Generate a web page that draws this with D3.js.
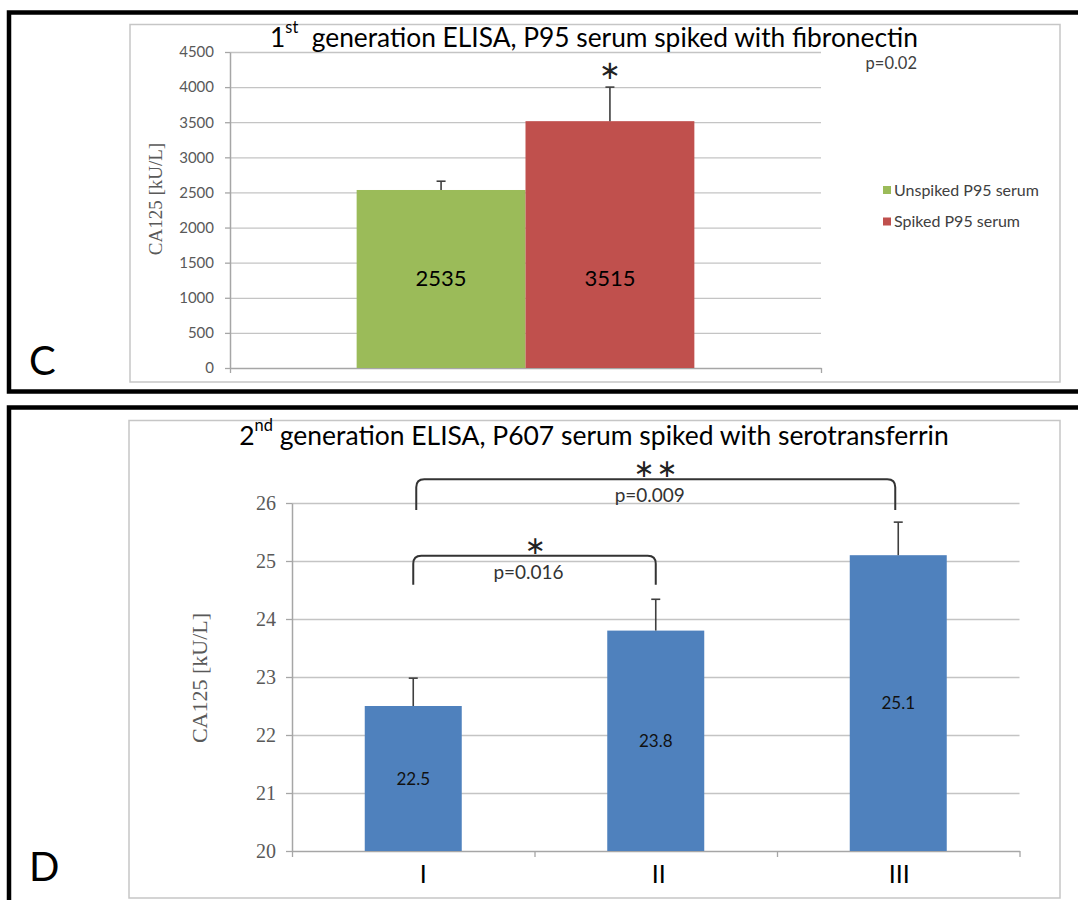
<!DOCTYPE html>
<html><head><meta charset="utf-8">
<script src="https://cdn.jsdelivr.net/npm/d3@7"></script>
<style>body{margin:0;background:#fff}svg{display:block}text{white-space:pre}</style>
</head><body><svg id="c" width="1078" height="900"></svg>
<script>
// ---------- data ----------
const panelLabels = ["C", "D"];
const yTitleText = "CA125 [kU/L]";

const topTitleParts = ["1", "st", "  generation ELISA, P95 serum spiked with fibronectin"];
const topCategories = ["P95 serum"];
const topSeries = ["Unspiked P95 serum", "Spiked P95 serum"];
const topValues = [2535, 3515];
const topErrors = [125, 485];
const topTicks = [0, 500, 1000, 1500, 2000, 2500, 3000, 3500, 4000, 4500];
const topPValue = "p=0.02";
const topStars = "\u2217";

const bottomTitleParts = ["2", "nd", " generation ELISA, P607 serum spiked with serotransferrin"];
const bottomCategories = ["I", "II", "III"];
const bottomValues = [22.5, 23.8, 25.1];
const bottomErrors = [0.48, 0.54, 0.57];
const bottomTicks = [20, 21, 22, 23, 24, 25, 26];
const compFrom = ["I", "I"];
const compTo = ["II", "III"];
const compStars = ["\u2217", "\u2217\u2217"];
const compP = ["p=0.016", "p=0.009"];

// ---------- helpers ----------
const svg = d3.select("#c");
const SANS = "Lato, 'Open Sans', sans-serif";
const SERIF = "'Liberation Serif', 'DejaVu Serif', serif";
const STAR = "'DejaVu Sans', sans-serif";
const GRID = "#c4c4c4", AXIS = "#a6a6a6", TICKTXT = "#595959", ERR = "#3f3f3f";

function fitWidth(sel, w) {
  const cur = sel.node().getComputedTextLength();
  const fs = parseFloat(sel.attr("font-size"));
  sel.attr("font-size", fs * w / cur);
}
function title(parts, cx, y, w) {
  const t = svg.append("text").attr("x", cx).attr("y", y).attr("text-anchor", "middle")
    .attr("font-family", SANS).attr("font-size", 26).attr("fill", "#000");
  t.append("tspan").text(parts[0]);
  t.append("tspan").attr("font-size", "62%").attr("dy", "-0.85em").text(parts[1]);
  t.append("tspan").attr("dy", "0.53em").text(parts[2]);
  fitWidth(t, w);
}

// ---------- frames ----------
svg.append("rect").attr("x", 9).attr("y", 12.5).attr("width", 1100).attr("height", 379)
  .attr("fill", "none").attr("stroke", "#000").attr("stroke-width", 4.5);
svg.append("rect").attr("x", 9).attr("y", 407.5).attr("width", 1100).attr("height", 600)
  .attr("fill", "none").attr("stroke", "#000").attr("stroke-width", 4.5);
svg.append("rect").attr("x", 130).attr("y", 24.5).attr("width", 930).attr("height", 357.5)
  .attr("fill", "#fff").attr("stroke", "#c6c6c6").attr("stroke-width", 1.5);
svg.append("rect").attr("x", 129).attr("y", 420.5).attr("width", 931).attr("height", 477.5)
  .attr("fill", "#fff").attr("stroke", "#c6c6c6").attr("stroke-width", 1.5);

// panel letters
svg.append("text").attr("x", 29).attr("y", 375).attr("font-family", SANS).attr("font-size", 40).text(panelLabels[0]);
svg.append("text").attr("x", 29).attr("y", 881).attr("font-family", SANS).attr("font-size", 40).text(panelLabels[1]);

// ================= TOP CHART =================
{
  const L = 230, R = 821, T = 52, B = 368;
  const y = d3.scaleLinear().domain([0, 4500]).range([B, T]);
  const x0 = d3.scaleBand().domain(topCategories).range([L, R]).padding(0);
  const x1 = d3.scaleBand().domain(topSeries).range([0, x0.bandwidth()]).paddingInner(0).paddingOuter(0.75);
  const color = d3.scaleOrdinal().domain(topSeries).range(["#9bbb59", "#c0504d"]);
  const g = svg.append("g");

  g.selectAll("line.grid").data(topTicks.filter(t => t > 0)).join("line")
    .attr("x1", L).attr("x2", R).attr("y1", d => y(d) + 0.5).attr("y2", d => y(d) + 0.5)
    .attr("stroke", GRID).attr("stroke-width", 1.3);

  const ya = g.append("g").attr("transform", `translate(${L},0)`)
    .call(d3.axisLeft(y).tickValues(topTicks).tickFormat(d3.format("d")).tickSize(5).tickSizeOuter(0).tickPadding(11));
  ya.select(".domain").attr("stroke", AXIS).attr("stroke-width", 1.5);
  ya.selectAll(".tick line").attr("stroke", AXIS).attr("stroke-width", 1.3);
  ya.selectAll(".tick text").attr("font-family", SANS).attr("font-size", 15).attr("fill", TICKTXT);

  const xs = d3.scaleLinear().domain([0, 1]).range([L, R]);
  const xa = g.append("g").attr("transform", `translate(0,${B})`)
    .call(d3.axisBottom(xs).tickValues([0, 1]).tickFormat("").tickSize(5).tickSizeOuter(0));
  xa.select(".domain").attr("stroke", AXIS).attr("stroke-width", 1.5);
  xa.selectAll(".tick line").attr("stroke", AXIS).attr("stroke-width", 1.3);

  const rows = topSeries.map((s, i) => ({ cat: topCategories[0], s, v: topValues[i], e: topErrors[i] }));
  g.selectAll("rect.bar").data(rows).join("rect")
    .attr("x", d => x0(d.cat) + x1(d.s)).attr("width", x1.bandwidth())
    .attr("y", d => y(d.v)).attr("height", d => y(0) - y(d.v)).attr("fill", d => color(d.s));

  rows.forEach(d => {
    const cx = x0(d.cat) + x1(d.s) + x1.bandwidth() / 2;
    g.append("line").attr("x1", cx).attr("x2", cx).attr("y1", y(d.v)).attr("y2", y(d.v + d.e))
      .attr("stroke", ERR).attr("stroke-width", 1.6);
    g.append("line").attr("x1", cx - 4.5).attr("x2", cx + 4.5).attr("y1", y(d.v + d.e)).attr("y2", y(d.v + d.e))
      .attr("stroke", ERR).attr("stroke-width", 1.6);
    g.append("text").attr("x", cx).attr("y", y(d3.min(topValues) / 2) + 7)
      .attr("text-anchor", "middle").attr("font-family", SANS).attr("font-size", 22).attr("fill", "#000")
      .text(d3.format("d")(d.v));
  });

  // significance star above spiked bar
  const sp = rows[1];
  const scx = x0(sp.cat) + x1(sp.s) + x1.bandwidth() / 2;
  g.append("text").attr("x", scx).attr("y", y(sp.v + sp.e) - 8).attr("text-anchor", "middle")
    .attr("font-family", STAR).attr("font-size", 26).attr("fill", "#222").text(topStars);
  g.append("text").attr("x", 917).attr("y", 69).attr("text-anchor", "end")
    .attr("font-family", SANS).attr("font-size", 16.5).attr("fill", "#404040").text(topPValue);

  // legend
  const lg = g.append("g");
  topSeries.forEach((s, i) => {
    const cy = 190 + i * 31.5;
    lg.append("rect").attr("x", 883).attr("y", cy - 4).attr("width", 8).attr("height", 8).attr("fill", color(s));
    lg.append("text").attr("x", 894).attr("y", cy + 5.5)
      .attr("font-family", SANS).attr("font-size", 16).attr("fill", "#404040").text(s);
  });

  // y-axis title
  svg.append("text").attr("transform", "translate(162,199) rotate(-90)").attr("text-anchor", "middle")
    .attr("font-family", SERIF).attr("font-size", 19).attr("fill", TICKTXT).text(yTitleText);

  title(topTitleParts, 594, 47, 648);
}

// ================= BOTTOM CHART =================
{
  const L = 292, R = 1019.5, T = 503, B = 851;
  const y = d3.scaleLinear().domain([20, 26]).range([B, T]);
  const x = d3.scaleBand().domain(bottomCategories).range([L, R]).paddingInner(0.6).paddingOuter(0.3);
  const g = svg.append("g");

  g.selectAll("line.grid").data(bottomTicks.filter(t => t > 20)).join("line")
    .attr("x1", L).attr("x2", R).attr("y1", d => y(d) + 0.5).attr("y2", d => y(d) + 0.5)
    .attr("stroke", GRID).attr("stroke-width", 1.3);

  const ya = g.append("g").attr("transform", `translate(${L},0)`)
    .call(d3.axisLeft(y).tickValues(bottomTicks).tickFormat(d3.format("d")).tickSize(6).tickSizeOuter(0).tickPadding(10));
  ya.select(".domain").attr("stroke", AXIS).attr("stroke-width", 1.5);
  ya.selectAll(".tick line").attr("stroke", AXIS).attr("stroke-width", 1.3);
  ya.selectAll(".tick text").attr("font-family", SERIF).attr("font-size", 20).attr("fill", TICKTXT);

  const xs = d3.scaleLinear().domain([0, bottomCategories.length]).range([L, R]);
  const xa = g.append("g").attr("transform", `translate(0,${B})`)
    .call(d3.axisBottom(xs).tickValues(d3.range(bottomCategories.length + 1)).tickFormat("").tickSize(6).tickSizeOuter(0));
  xa.select(".domain").attr("stroke", AXIS).attr("stroke-width", 1.5);
  xa.selectAll(".tick line").attr("stroke", AXIS).attr("stroke-width", 1.3);

  const rows = bottomCategories.map((c, i) => ({ c, v: bottomValues[i], e: bottomErrors[i] }));
  g.selectAll("rect.bar").data(rows).join("rect")
    .attr("x", d => x(d.c)).attr("width", x.bandwidth())
    .attr("y", d => y(d.v)).attr("height", d => y(20) - y(d.v)).attr("fill", "#4f81bd");

  const cxOf = c => x(c) + x.bandwidth() / 2;
  rows.forEach(d => {
    const cx = cxOf(d.c);
    g.append("line").attr("x1", cx).attr("x2", cx).attr("y1", y(d.v)).attr("y2", y(d.v + d.e))
      .attr("stroke", ERR).attr("stroke-width", 1.6);
    g.append("line").attr("x1", cx - 4.5).attr("x2", cx + 4.5).attr("y1", y(d.v + d.e)).attr("y2", y(d.v + d.e))
      .attr("stroke", ERR).attr("stroke-width", 1.6);
    g.append("text").attr("x", cx).attr("y", y((20 + d.v) / 2) + 6)
      .attr("text-anchor", "middle").attr("font-family", SANS).attr("font-size", 17).attr("fill", "#111")
      .text(d.v.toFixed(1));
    g.append("text").attr("x", cx + (d.c === "I" ? 10 : d.c === "II" ? 3 : 1)).attr("y", 883)
      .attr("text-anchor", "middle").attr("font-family", SANS).attr("font-size", 25).attr("fill", "#000")
      .text(d.c);
  });

  // significance brackets
  const levels = [25.09, 26.41], drops = [0.5, 0.53], insets = [0, 3];
  compFrom.forEach((a, i) => {
    const x1 = cxOf(a) + insets[i], x2 = cxOf(compTo[i]) - insets[i];
    const yt = y(levels[i]), yb = y(levels[i] - drops[i]), r = 8;
    g.append("path")
      .attr("d", `M${x1},${yb} L${x1},${yt + r} Q${x1},${yt} ${x1 + r},${yt} L${x2 - r},${yt} Q${x2},${yt} ${x2},${yt + r} L${x2},${yb}`)
      .attr("fill", "none").attr("stroke", "#333").attr("stroke-width", 2);
    const mx = (x1 + x2) / 2;
    g.append("text").attr("x", mx + 1).attr("y", yt - 2).attr("text-anchor", "middle")
      .attr("font-family", STAR).attr("font-size", 25).attr("letter-spacing", compStars[i].length > 1 ? 2 : 0)
      .attr("fill", "#222").text(compStars[i]);
    g.append("text").attr("x", mx - 6).attr("y", yt + 23).attr("text-anchor", "middle")
      .attr("font-family", SANS).attr("font-size", 19).attr("fill", "#333").text(compP[i]);
  });

  svg.append("text").attr("transform", "translate(207,678) rotate(-90)").attr("text-anchor", "middle")
    .attr("font-family", SERIF).attr("font-size", 22).attr("fill", TICKTXT).text(yTitleText);

  title(bottomTitleParts, 594, 445, 710);
}
</script></body></html>
